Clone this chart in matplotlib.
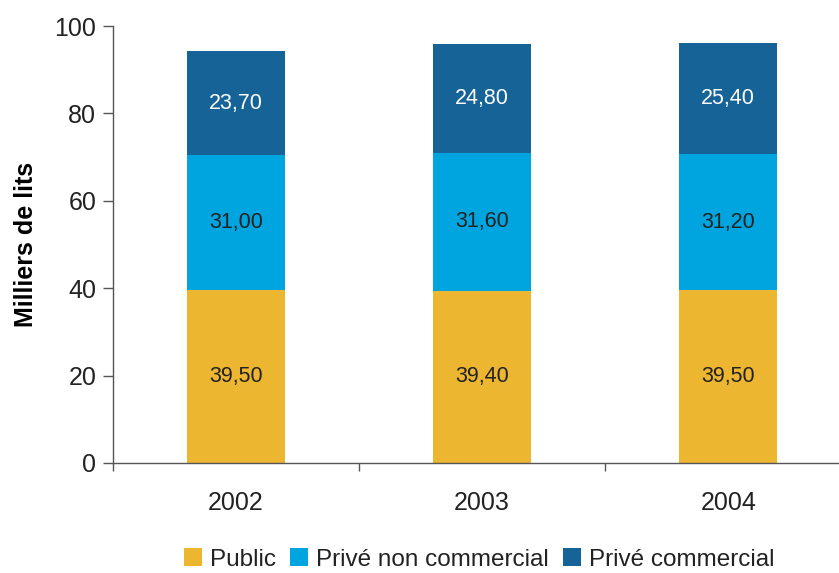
import matplotlib.pyplot as plt
import numpy as np

annees = ["2002", "2003", "2004"]
public = [39.5, 39.4, 39.5]
prive_non_commercial = [31.0, 31.6, 31.2]
prive_commercial = [23.7, 24.8, 25.4]

series = ["Public", "Privé non commercial", "Privé commercial"]
couleurs = ["#EDB631", "#00A5DF", "#166397"]
couleurs_texte = ["#222222", "#222222", "white"]

plt.rcParams['font.family'] = ['Liberation Sans', 'DejaVu Sans']

fig = plt.figure(figsize=(8.39, 5.73), dpi=100)
ax = fig.add_axes([0.1347, 0.192, 0.8653, 0.7626])

x = np.arange(len(annees))
bas = np.zeros(len(annees))
for nom, valeurs, c, ct in zip(series, [public, prive_non_commercial, prive_commercial],
                               couleurs, couleurs_texte):
    barres = ax.bar(x, valeurs, 0.4, bottom=bas, color=c, label=nom)
    etiquettes = [f"{v:.2f}".replace(".", ",") for v in valeurs]
    ax.bar_label(barres, labels=etiquettes, label_type='center', color=ct, fontsize=15.5)
    bas += np.array(valeurs)

ax.set_ylim(0, 100)
ax.set_xlim(-0.5, 2.45)
ax.set_yticks(range(0, 101, 20))
ax.set_xticks(x)
ax.set_xticklabels(annees)
ax.set_xticks([-0.5, 0.5, 1.5], minor=True)
ax.tick_params(axis='x', which='major', length=0, pad=20, labelsize=18, labelcolor='#222222')
ax.tick_params(axis='x', which='minor', length=6, color='#555555', width=1)
ax.tick_params(axis='y', length=7, color='#555555', width=1, labelsize=18,
               labelcolor='#222222', pad=5)

for s in ['top', 'right']:
    ax.spines[s].set_visible(False)
for s in ['left', 'bottom']:
    ax.spines[s].set_color('#555555')
    ax.spines[s].set_linewidth(1)

ax.set_ylabel("Milliers de lits", fontsize=18, fontweight='bold', labelpad=12)

fig.legend(loc='lower center', bbox_to_anchor=(0.571, -0.034), ncol=3, frameon=False,
           fontsize=17.5, handlelength=0.75, handleheight=0.75, handletextpad=0.3,
           columnspacing=0.6, labelcolor='#222222')

fig.savefig("out.png", dpi=100)
